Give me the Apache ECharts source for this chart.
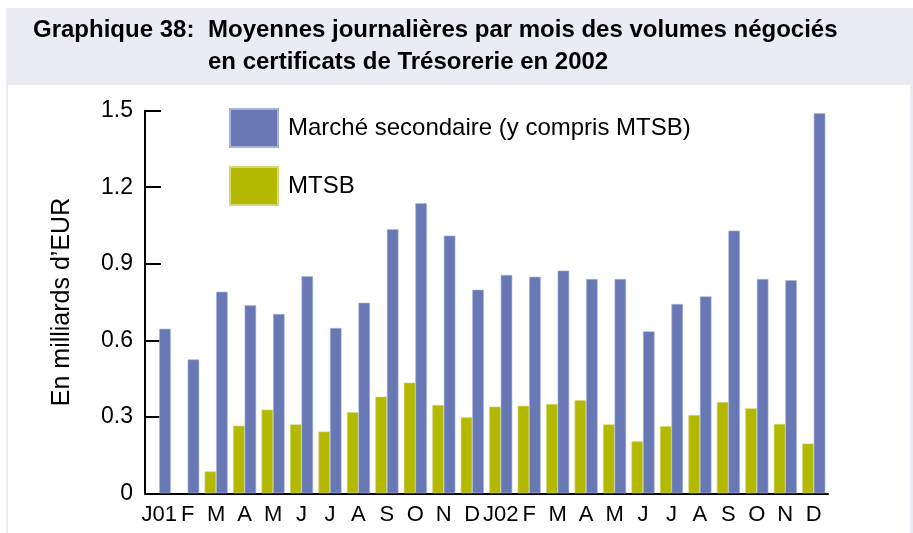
<!DOCTYPE html>
<html>
<head>
<meta charset="utf-8">
<script src="https://cdn.jsdelivr.net/npm/echarts@6/dist/echarts.min.js"></script>
<style>
  html, body { margin: 0; padding: 0; background: #ffffff; }
  #chart { width: 913px; height: 533px; }
</style>
</head>
<body>
<div id="chart"></div>
<script>
// Months Jan 2001 – Dec 2002
const months = ['J01', 'F', 'M', 'A', 'M', 'J', 'J', 'A', 'S', 'O', 'N', 'D',
                'J02', 'F', 'M', 'A', 'M', 'J', 'J', 'A', 'S', 'O', 'N', 'D'];

// Daily averages per month, billions of EUR
const secondaryMarket = [0.645, 0.525, 0.790, 0.737, 0.703, 0.851, 0.648, 0.747, 1.035, 1.137, 1.010, 0.798,
                         0.856, 0.849, 0.873, 0.840, 0.840, 0.635, 0.742, 0.772, 1.030, 0.840, 0.835, 1.490];
const mtsb = [null, null, 0.086, 0.265, 0.328, 0.270, 0.242, 0.318, 0.379, 0.434, 0.346, 0.298,
              0.340, 0.343, 0.350, 0.365, 0.270, 0.204, 0.263, 0.307, 0.358, 0.333, 0.272, 0.195];

const yTicks = [0, 0.3, 0.6, 0.9, 1.2, 1.5];

const seriesNames = ['Marché secondaire (y compris MTSB)', 'MTSB'];

const FONT = 'Liberation Sans, Arial, Helvetica, sans-serif';
const BAND = '#ebebf4';

const chart = echarts.init(document.getElementById('chart'), null, { renderer: 'canvas' });

chart.setOption({
  backgroundColor: '#ffffff',
  animation: false,
  graphic: [
    { type: 'rect', silent: true, z: -10, shape: { x: 6, y: 8, width: 907, height: 77 }, style: { fill: BAND } },
    { type: 'rect', silent: true, z: -10, shape: { x: 6, y: 85, width: 2, height: 448 }, style: { fill: BAND } },
    { type: 'rect', silent: true, z: -10, shape: { x: 910, y: 85, width: 3, height: 448 }, style: { fill: BAND } }
  ],
  title: [
    {
      text: 'Graphique 38:',
      left: 33, top: 14, padding: 0,
      textStyle: { fontFamily: FONT, fontWeight: 'bold', fontSize: 24, color: '#000', lineHeight: 32 }
    },
    {
      text: 'Moyennes journalières par mois des volumes négociés\nen certificats de Trésorerie en 2002',
      left: 208, top: 14, padding: 0,
      textStyle: { fontFamily: FONT, fontWeight: 'bold', fontSize: 24, color: '#000', lineHeight: 32 }
    }
  ],
  legend: {
    orient: 'vertical',
    left: 229, top: 108, padding: 0,
    itemWidth: 48, itemHeight: 38, itemGap: 18,
    icon: 'rect',
    data: seriesNames,
    textStyle: { fontFamily: FONT, fontSize: 24, color: '#000', padding: [0, 0, 0, 5] },
    selectedMode: false
  },
  grid: { left: 145, right: 85, top: 110.7, bottom: 39.7, containLabel: false },
  xAxis: {
    type: 'category',
    data: months,
    axisLine: { lineStyle: { color: '#000', width: 2 } },
    axisTick: { show: false },
    axisLabel: { fontFamily: FONT, fontSize: 22, color: '#000', margin: 11, interval: 0 }
  },
  yAxis: {
    type: 'value',
    min: 0, max: 1.5, interval: 0.3,
    name: 'En milliards d\u2019EUR',
    nameLocation: 'middle',
    nameGap: 70,
    nameTextStyle: { fontFamily: FONT, fontSize: 25, color: '#000' },
    splitLine: { show: false },
    axisLine: { show: true, lineStyle: { color: '#000', width: 2 } },
    axisTick: { show: true, inside: true, length: 16, lineStyle: { color: '#000', width: 2 } },
    axisLabel: {
      fontFamily: FONT, fontSize: 23, color: '#000', margin: 12,
      formatter: v => {
        const t = yTicks.find(x => Math.abs(x - v) < 1e-9);
        return t === 0 ? '0' : t.toFixed(1);
      }
    }
  },
  series: [
    {
      name: seriesNames[1],
      type: 'bar',
      data: mtsb,
      itemStyle: { color: '#b4b900', borderColor: '#d4d77a', borderWidth: 0.6 },
      barGap: '0%',
      barCategoryGap: '19%',
      z: 3
    },
    {
      name: seriesNames[0],
      type: 'bar',
      data: secondaryMarket,
      itemStyle: { color: '#6878b4', borderColor: '#a9b3d6', borderWidth: 0.6 },
      barGap: '0%',
      barCategoryGap: '19%',
      z: 3
    }
  ]
});
</script>
</body>
</html>
